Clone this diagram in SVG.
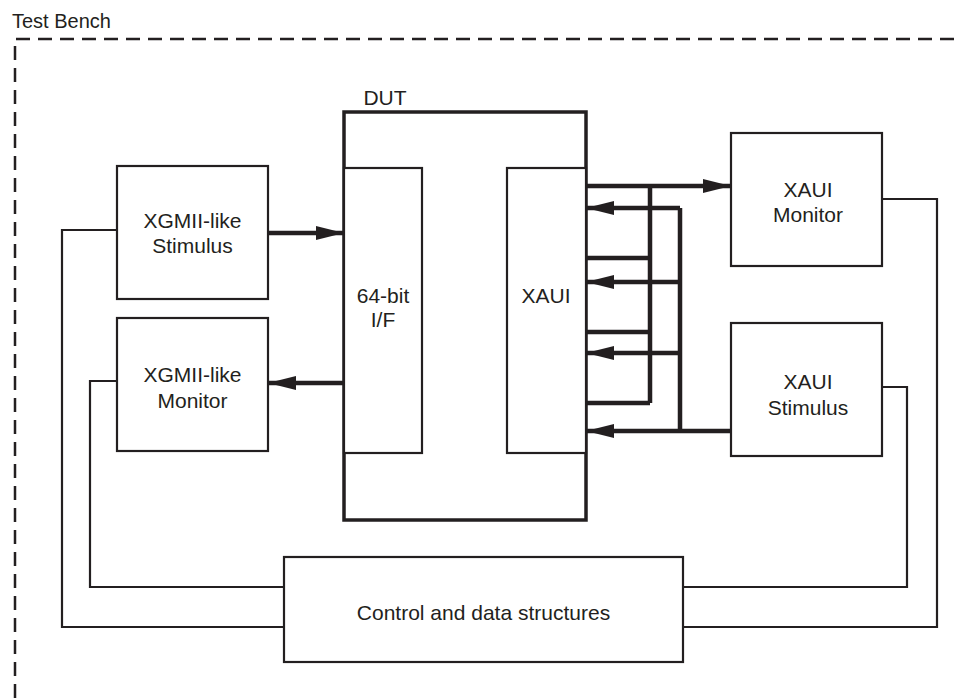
<svg xmlns="http://www.w3.org/2000/svg" width="962" height="698" viewBox="0 0 962 698">
<style>
.box{fill:#fff;stroke:#231f20;stroke-width:2.2}
.dut{fill:#fff;stroke:#231f20;stroke-width:3.5}
.thin{fill:none;stroke:#231f20;stroke-width:2.2}
.thick{fill:none;stroke:#231f20;stroke-width:4.5}
.lbl{font-family:"Liberation Sans",Arial,sans-serif;font-size:21px;fill:#231f20;text-anchor:middle}
.dash{fill:none;stroke:#231f20;stroke-width:2.5;stroke-dasharray:14 8}
</style>
<defs>
<marker id="ah" viewBox="0 0 28 14" refX="28" refY="7" markerWidth="28" markerHeight="14" markerUnits="userSpaceOnUse" orient="auto">
<path d="M0,0 L28,7 L0,14 Z" fill="#231f20"/>
</marker>
</defs>
<g id="testbench">
<path class="dash" d="M15,698 V39 H962"/>
<text x="12" y="28" style="font-family:'Liberation Sans',Arial,sans-serif;font-size:20px;fill:#231f20">Test Bench</text>
</g>
<g id="connectors">
<path class="thin" d="M117,230 H62 V627 H284"/>
<path class="thin" d="M117,381 H90 V587 H284"/>
<path class="thin" d="M882,199 H937 V627 H683"/>
<path class="thin" d="M882,387 H907 V587 H683"/>
<path class="thick" d="M268,233 H344" marker-end="url(#ah)"/>
<path class="thick" d="M344,383 H268" marker-end="url(#ah)"/>
<path class="thick" d="M586,186 H731" marker-end="url(#ah)"/>
<path class="thick" d="M650,186 V403"/>
<path class="thick" d="M586,258 H650"/>
<path class="thick" d="M586,332 H650"/>
<path class="thick" d="M586,403 H650"/>
<path class="thick" d="M680,208 V431"/>
<path class="thick" d="M680,208 H586" marker-end="url(#ah)"/>
<path class="thick" d="M680,282 H586" marker-end="url(#ah)"/>
<path class="thick" d="M680,353 H586" marker-end="url(#ah)"/>
<path class="thick" d="M731,431 H586" marker-end="url(#ah)"/>
</g>
<g id="dut">
<rect class="dut" x="344" y="112" width="242" height="408"/>
<text class="lbl" x="385" y="105">DUT</text>
</g>
<g id="if64">
<rect class="box" x="344" y="168" width="78" height="285"/>
<text class="lbl" x="383" y="303">64-bit</text>
<text class="lbl" x="383" y="327">I/F</text>
</g>
<g id="xaui">
<rect class="box" x="507" y="168" width="79" height="285"/>
<text class="lbl" x="546" y="303">XAUI</text>
</g>
<g id="xgmii-stim">
<rect class="box" x="117" y="166" width="151" height="133"/>
<text class="lbl" x="192.5" y="228">XGMII-like</text>
<text class="lbl" x="192.5" y="253">Stimulus</text>
</g>
<g id="xgmii-mon">
<rect class="box" x="117" y="318" width="151" height="133"/>
<text class="lbl" x="192.5" y="382">XGMII-like</text>
<text class="lbl" x="192.5" y="408">Monitor</text>
</g>
<g id="xaui-mon">
<rect class="box" x="731" y="133" width="151" height="133"/>
<text class="lbl" x="808" y="197">XAUI</text>
<text class="lbl" x="808" y="222">Monitor</text>
</g>
<g id="xaui-stim">
<rect class="box" x="731" y="323" width="151" height="133"/>
<text class="lbl" x="808" y="389">XAUI</text>
<text class="lbl" x="808" y="415">Stimulus</text>
</g>
<g id="control">
<rect class="box" x="284" y="557" width="399" height="105"/>
<text class="lbl" x="483.5" y="620">Control and data structures</text>
</g>
</svg>
